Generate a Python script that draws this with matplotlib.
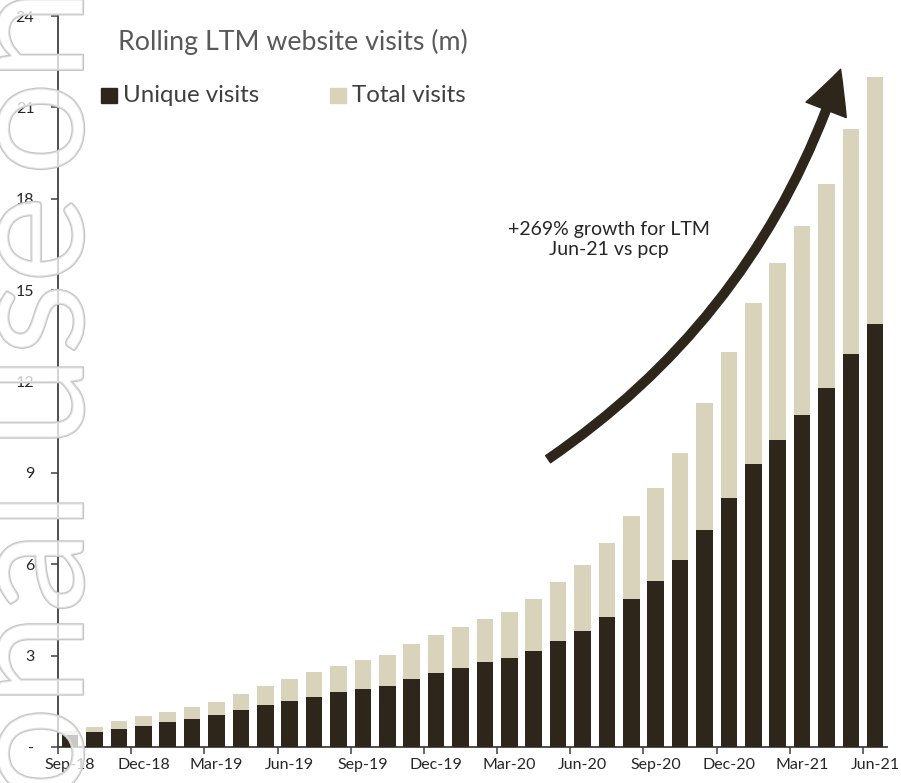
import matplotlib
matplotlib.use("Agg")
import matplotlib.pyplot as plt
import matplotlib.patheffects as pe
from matplotlib.patches import FancyArrowPatch, Rectangle
from matplotlib.ticker import FixedLocator, NullFormatter

plt.rcParams["font.family"] = ["Lato", "DejaVu Sans"]

# Rolling last-twelve-month website visits, millions
months = [
    "Sep-18", "Oct-18", "Nov-18", "Dec-18", "Jan-19", "Feb-19", "Mar-19",
    "Apr-19", "May-19", "Jun-19", "Jul-19", "Aug-19", "Sep-19", "Oct-19",
    "Nov-19", "Dec-19", "Jan-20", "Feb-20", "Mar-20", "Apr-20", "May-20",
    "Jun-20", "Jul-20", "Aug-20", "Sep-20", "Oct-20", "Nov-20", "Dec-20",
    "Jan-21", "Feb-21", "Mar-21", "Apr-21", "May-21", "Jun-21",
]
unique_visits = [
    0.40, 0.48, 0.60, 0.70, 0.83, 0.93, 1.04, 1.20, 1.37, 1.52,
    1.65, 1.80, 1.92, 2.01, 2.24, 2.44, 2.60, 2.78, 2.91, 3.16,
    3.48, 3.81, 4.27, 4.86, 5.44, 6.15, 7.12, 8.19, 9.28, 10.09,
    10.89, 11.80, 12.89, 13.90,
]
total_visits = [
    0.54, 0.67, 0.84, 1.01, 1.16, 1.30, 1.49, 1.74, 2.00, 2.23,
    2.46, 2.66, 2.86, 3.02, 3.39, 3.68, 3.93, 4.19, 4.42, 4.86,
    5.42, 5.97, 6.69, 7.59, 8.51, 9.65, 11.29, 12.97, 14.59, 15.90,
    17.09, 18.48, 20.29, 22.00,
]
y_ticks = [0, 3, 6, 9, 12, 15, 18, 21, 24]
y_tick_labels = ["-", "3", "6", "9", "12", "15", "18", "21", "24"]

DARK = "#2e261a"
LIGHT = "#d9d3bc"
AXIS = "#404040"

W, H = 901, 783
fig = plt.figure(figsize=(W / 100, H / 100), dpi=100)
ax = fig.add_axes([58 / W, 1 - 747 / H, (887.4 - 58) / W, (747 - 16) / H])


def fx(px):
    return px / W


def fy(py):
    return 1 - py / H


x = list(range(len(months)))
ax.bar(x, total_visits, width=0.68, color=LIGHT, zorder=2)
ax.bar(x, unique_visits, width=0.68, color=DARK, zorder=3)

ax.set_xlim(-0.5, len(months) - 0.5)
ax.set_ylim(0, 24)

for s in ["top", "right"]:
    ax.spines[s].set_visible(False)
for s in ["left", "bottom"]:
    ax.spines[s].set_color(AXIS)
    ax.spines[s].set_linewidth(1.3)

ax.set_yticks(y_ticks)
ax.set_yticklabels(y_tick_labels)
ax.tick_params(axis="y", direction="out", length=5, width=1.1, color=AXIS,
               pad=12, labelsize=11.5, labelcolor="#262626")

# Major ticks at category boundaries, labels on every third month
label_idx = list(range(0, len(months), 3))
ax.xaxis.set_major_locator(FixedLocator([i - 0.5 for i in label_idx]))
ax.xaxis.set_major_formatter(NullFormatter())
ax.xaxis.set_minor_locator(FixedLocator(label_idx))
ax.set_xticklabels([months[i] for i in label_idx], minor=True)
ax.tick_params(axis="x", which="major", direction="out", length=5, width=1.1,
               color=AXIS)
ax.tick_params(axis="x", which="minor", length=0, pad=8, labelsize=11.5,
               labelcolor="#262626")

# Title and legend
fig.text(fx(118), fy(42), "Rolling LTM website visits (m)", fontsize=19.3,
         color="#595959", ha="left", va="center")
fig.patches.append(Rectangle((fx(101), fy(103)), fx(16), 15 / H,
                             transform=fig.transFigure, color=DARK))
fig.text(fx(123), fy(95), "Unique visits", fontsize=17.3, color="#404040",
         ha="left", va="center")
fig.patches.append(Rectangle((fx(330), fy(103)), fx(16), 15 / H,
                             transform=fig.transFigure, color=LIGHT))
fig.text(fx(352), fy(95), "Total visits", fontsize=17.3, color="#404040",
         ha="left", va="center")

# Growth arrow and callout
arrow = FancyArrowPatch((19.59, 9.45), (31.58, 22.25),
                        connectionstyle="arc3,rad=0.17",
                        arrowstyle="simple,head_length=3.1,head_width=3.1,tail_width=0.62",
                        mutation_scale=10, color=DARK, shrinkA=0, shrinkB=0,
                        zorder=5)
ax.add_patch(arrow)
fig.text(fx(609), fy(239.5), "+269% growth for LTM\nJun-21 vs pcp",
         fontsize=14, color="#262626", ha="center", va="center",
         linespacing=1.25)

# Document watermark, drawn as two runs reading bottom to top
wm_style = dict(fontsize=120, rotation=90, rotation_mode="anchor",
                va="baseline", color=(1, 1, 1, 0.5), zorder=10,
                path_effects=[pe.withStroke(linewidth=1.6,
                                            foreground="#c4c4c4")])
fig.text(fx(83), fy(196), "personal use", ha="right", **wm_style)
fig.text(fx(83), fy(176), "only", ha="left", **wm_style)

fig.savefig("out.png", dpi=100)
